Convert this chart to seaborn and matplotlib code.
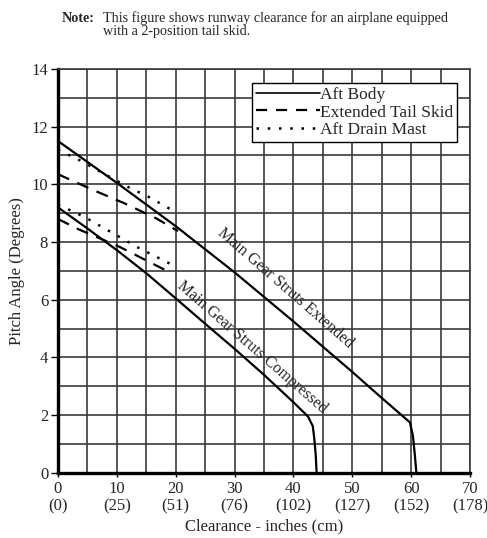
import matplotlib.pyplot as plt
import seaborn as sns
import pandas as pd
from matplotlib.lines import Line2D

# Aft body, main gear struts extended
ext_x = [0, 10, 20, 30, 40, 50, 55, 59.8, 60.3, 60.6, 60.9]
ext_y = [11.5, 10.05, 8.55, 6.95, 5.25, 3.5, 2.6, 1.75, 1.3, 0.7, 0]

# Aft body, main gear struts compressed
comp_x = [0, 5, 10, 15, 20, 25, 30, 35, 40, 42.5, 43.3, 43.6, 43.8, 43.95]
comp_y = [9.2, 8.47, 7.72, 6.92, 6.05, 5.17, 4.3, 3.4, 2.45, 1.95, 1.62, 1.1, 0.6, 0]

# Extended tail skid
skid_ext_x = [0, 6, 11.2, 16.7, 20.4]
skid_ext_y = [10.35, 9.8, 9.35, 8.82, 8.38]
skid_comp_x = [0, 3.4, 10.5, 18.5]
skid_comp_y = [8.8, 8.45, 7.83, 7.0]

# Aft drain mast
mast_ext_x = [0, 4, 7.5, 12.6, 15.1, 19]
mast_ext_y = [11.2, 10.8, 10.4, 9.83, 9.6, 9.15]
mast_comp_x = [0, 4.6, 7.5, 10.5, 13.4, 20]
mast_comp_y = [9.3, 8.86, 8.52, 8.17, 7.83, 7.15]

x_ticks = [0, 10, 20, 30, 40, 50, 60, 70]
x_tick_labels = ['0\n(0)', '10\n(25)', '20\n(51)', '30\n(76)', '40\n(102)',
                 '50\n(127)', '60\n(152)', '70\n(178)']
y_ticks = [0, 2, 4, 6, 8, 10, 12, 14]

sns.set_style('white')
plt.rcParams['font.family'] = ['Liberation Serif', 'DejaVu Serif']

fig = plt.figure(figsize=(4.87, 5.38), dpi=100)
ax = fig.add_axes([0.119, 0.121, 0.846, 0.751])

lw = 1.6
for xs, ys in [(ext_x, ext_y), (comp_x, comp_y)]:
    sns.lineplot(x=xs, y=ys, ax=ax, color='black', lw=lw, sort=False, estimator=None)
for xs, ys in [(skid_ext_x, skid_ext_y), (skid_comp_x, skid_comp_y)]:
    sns.lineplot(x=xs, y=ys, ax=ax, color='black', lw=lw, sort=False, estimator=None,
                 linestyle=(0, (5.5, 4)))
for xs, ys in [(mast_ext_x, mast_ext_y), (mast_comp_x, mast_comp_y)]:
    sns.lineplot(x=xs, y=ys, ax=ax, color='black', lw=1.8, sort=False, estimator=None,
                 linestyle=(0, (1, 3.5)))

ax.set_xlim(0, 70)
ax.set_ylim(0, 14)
ax.set_xticks(range(0, 71, 5), minor=True)
ax.set_yticks(range(0, 15), minor=True)
ax.set_xticks(x_ticks)
ax.set_xticklabels(x_tick_labels, fontsize=12, linespacing=1.1)
ax.set_yticks(y_ticks)
ax.set_yticklabels([str(v) for v in y_ticks], fontsize=12)
ax.grid(which='both', color='#3a3a3a', lw=1.2)
ax.tick_params(axis='x', which='major', direction='out', length=3, width=1,
               color='black', pad=3, bottom=True)
ax.tick_params(axis='y', which='major', direction='out', length=5, width=1,
               color='black', pad=2, left=True)
ax.tick_params(which='minor', length=0)
for side in ['left', 'bottom']:
    ax.spines[side].set_linewidth(2.4)
    ax.spines[side].set_color('black')
for side in ['top', 'right']:
    ax.spines[side].set_linewidth(1.2)
    ax.spines[side].set_color('#3a3a3a')

ax.set_xlabel('Clearance - inches (cm)', fontsize=12, labelpad=3)
ax.set_ylabel('Pitch Angle (Degrees)', fontsize=12, labelpad=5)

ax.text(38.6, 6.4, 'Main Gear Struts Extended', rotation=-41, fontsize=11.5,
        ha='center', va='center', rotation_mode='anchor')
ax.text(33.0, 4.35, 'Main Gear Struts Compressed', rotation=-41, fontsize=11.5,
        ha='center', va='center', rotation_mode='anchor')

handles = [Line2D([], [], color='black', lw=1.2),
           Line2D([], [], color='black', lw=1.6, linestyle=(0, (5, 4))),
           Line2D([], [], color='black', lw=1.8, linestyle=(0, (1, 3.5)))]
leg = ax.legend(handles, ['Aft Body', 'Extended Tail Skid', 'Aft Drain Mast'],
                loc='upper right', bbox_to_anchor=(0.968, 0.965), borderaxespad=0,
                fontsize=12.5, handlelength=3.7, handletextpad=0.0, labelspacing=0.1,
                borderpad=0.2, fancybox=False, framealpha=1, edgecolor='black')
leg.get_frame().set_linewidth(1.0)

fig.text(62 / 487, 1 - 18 / 538, 'Note:', fontsize=10.2, fontweight='bold', va='center')
fig.text(103 / 487, 1 - 18 / 538,
         'This figure shows runway clearance for an airplane equipped',
         fontsize=10.2, va='center')
fig.text(103 / 487, 1 - 31 / 538, 'with a 2-position tail skid.',
         fontsize=10.2, va='center')

fig.savefig('out.png', dpi=100)
